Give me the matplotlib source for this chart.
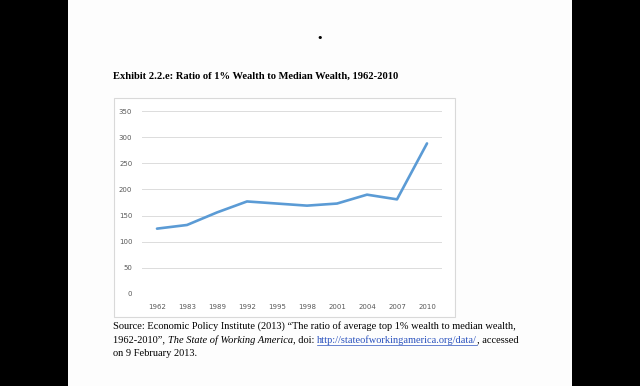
import matplotlib
matplotlib.use("Agg")
import matplotlib.pyplot as plt
from matplotlib.patches import Rectangle

# data
years = ["1962", "1983", "1989", "1992", "1995", "1998", "2001", "2004", "2007", "2010"]
ratio = [125, 132, 156, 177, 173, 169, 173, 190, 181, 288]
y_ticks = [0, 50, 100, 150, 200, 250, 300, 350]

title = "Exhibit 2.2.e: Ratio of 1% Wealth to Median Wealth, 1962-2010"
source_line1 = "Source: Economic Policy Institute (2013) \u201cThe ratio of average top 1% wealth to median wealth,"
source_line2 = [
    ("1962-2010\u201d, ", "normal", "black", False),
    ("The State of Working America", "italic", "black", False),
    (", doi: ", "normal", "black", False),
    ("http://stateofworkingamerica.org/data/", "normal", "#2a52be", True),
    (", accessed", "normal", "black", False),
]
source_line3 = "on 9 February 2013."

W, H = 640, 386
serif = ["Liberation Serif", "DejaVu Serif"]


def fx(x):
    return x / W


def fy(y):
    return 1 - y / H


fig = plt.figure(figsize=(6.4, 3.86), dpi=100)
fig.patch.set_facecolor("black")

# white page between the black bars
fig.patches.append(Rectangle((fx(68), 0), fx(572) - fx(68), 1, transform=fig.transFigure,
                             facecolor="#fdfdfd", edgecolor="none", zorder=0))
# chart frame
fig.patches.append(Rectangle((fx(114), fy(317)), fx(455) - fx(114), fy(98) - fy(317),
                             transform=fig.transFigure, facecolor="white",
                             edgecolor="#d9d9d9", linewidth=0.8, zorder=0.5))

fig.text(fx(320), fy(38), "\u2022", ha="center", va="center", fontsize=8, color="black")
fig.text(fx(113), fy(76), title, ha="left", va="center", fontsize=7.6,
         fontweight="bold", family=serif)

# plot area
ax = fig.add_axes([fx(142), fy(294), fx(442) - fx(142), fy(111) - fy(294)])
ax.set_zorder(2)
ax.set_facecolor("none")
x = list(range(len(years)))
ax.plot(x, ratio, color="#5b9bd5", linewidth=1.9, solid_capstyle="round", zorder=3)
ax.set_xlim(-0.5, len(years) - 0.5)
ax.set_ylim(0, 350)
ax.set_yticks(y_ticks)
ax.set_xticks(x)
ax.set_xticklabels(years)
for v in y_ticks:
    ax.axhline(v, color="#dcdcdc", linewidth=0.7, zorder=1)
for s in ax.spines.values():
    s.set_visible(False)
ax.tick_params(length=0, labelsize=5, labelcolor="#595959")
ax.tick_params(axis="y", pad=7)
ax.tick_params(axis="x", pad=7)

# source note
fs = 7.5
fig.text(fx(113), fy(326), source_line1, ha="left", va="center", fontsize=fs, family=serif)
renderer = fig.canvas.get_renderer()
xpos = fx(113)
for txt, style, col, underline in source_line2:
    t = fig.text(xpos, fy(340), txt, ha="left", va="center", fontsize=fs,
                 family=serif, style=style, color=col)
    bb = t.get_window_extent(renderer=renderer)
    if underline:
        fig.lines.append(plt.Line2D([bb.x0 / W, bb.x1 / W], [fy(344.5), fy(344.5)],
                                    transform=fig.transFigure, color=col, linewidth=0.5))
    xpos = bb.x1 / W
fig.text(fx(113), fy(353), source_line3, ha="left", va="center", fontsize=fs, family=serif)

fig.savefig("out.png", dpi=100, facecolor=fig.get_facecolor())
